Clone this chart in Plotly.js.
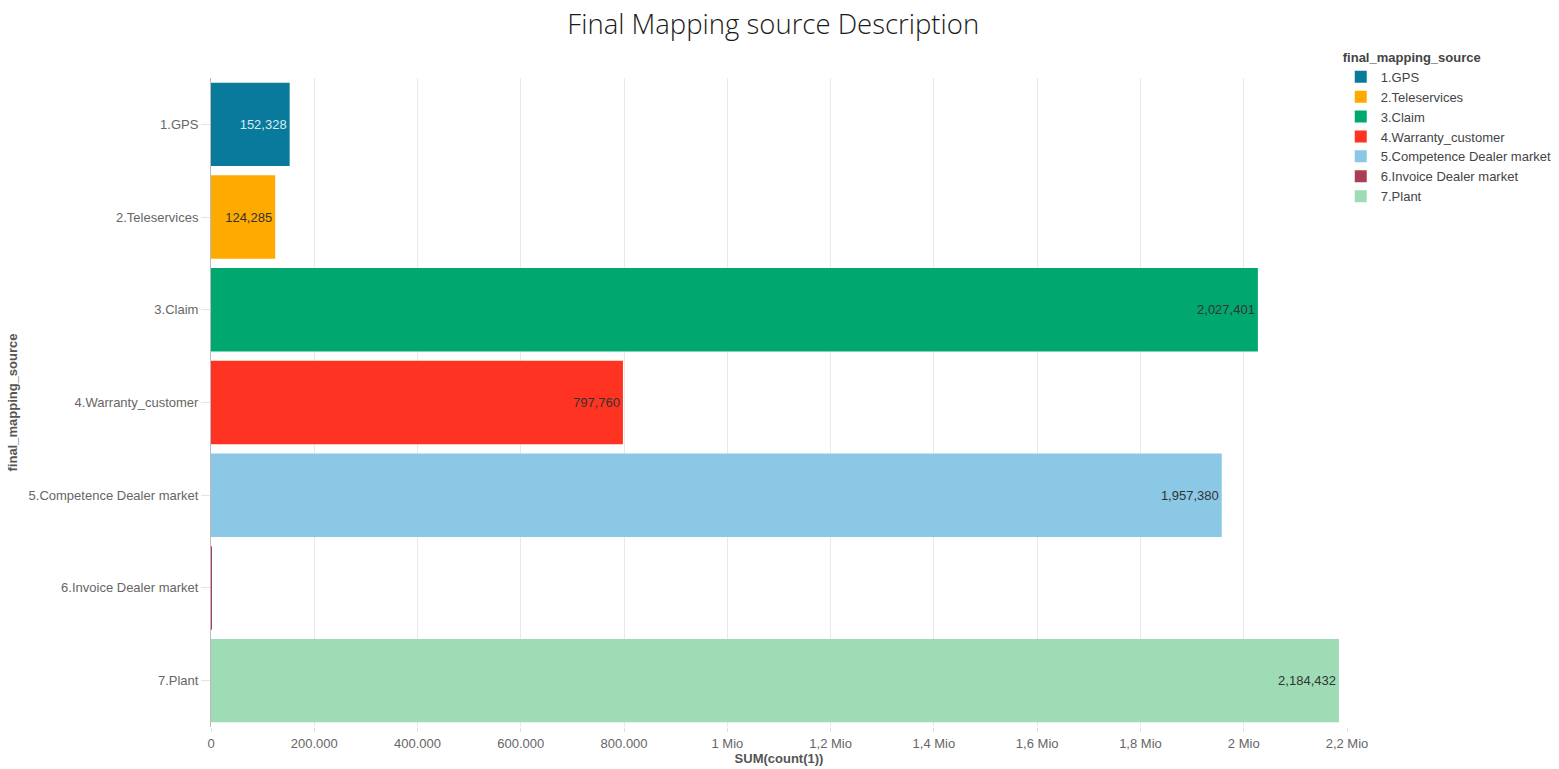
<!DOCTYPE html>
<html>
<head>
<meta charset="utf-8">
<script src="https://cdn.plot.ly/plotly-3.0.1.min.js"></script>
<style>html,body{margin:0;padding:0;background:#fff;}#chart{width:1559px;height:769px;}</style>
</head>
<body>
<div id="chart"></div>
<script>
const categories = ["1.GPS", "2.Teleservices", "3.Claim", "4.Warranty_customer", "5.Competence Dealer market", "6.Invoice Dealer market", "7.Plant"];
const values = [152328, 124285, 2027401, 797760, 1957380, 60, 2184432];
const colors = ["#0a7a9c", "#ffaa00", "#00a86f", "#ff3322", "#8ac8e6", "#a84055", "#9ddcb5"];
const labelColors = ["#d6ecf3", "#333333", "#333333", "#333333", "#333333", "#333333", "#333333"];
const tickVals = [0, 200000, 400000, 600000, 800000, 1000000, 1200000, 1400000, 1600000, 1800000, 2000000, 2200000];
const tickText = ["0", "200.000", "400.000", "600.000", "800.000", "1 Mio", "1,2 Mio", "1,4 Mio", "1,6 Mio", "1,8 Mio", "2 Mio", "2,2 Mio"];

const fmt = v => v.toLocaleString('en-US');

const traces = categories.map((c, i) => ({
  type: 'bar',
  orientation: 'h',
  name: c,
  y: [c],
  x: [values[i]],
  width: 0.9,
  marker: {color: colors[i], line: {width: 0}},
  text: [fmt(values[i])],
  textposition: values[i] > 10000 ? 'inside' : 'none',
  insidetextanchor: 'end',
  textfont: {family: 'Liberation Sans, Arial, sans-serif', size: 13, color: labelColors[i]},
  hoverinfo: 'x+y'
}));

const layout = {
  width: 1559, height: 769,
  paper_bgcolor: '#fff', plot_bgcolor: '#fff',
  margin: {l: 211, r: 212, t: 78, b: 42, autoexpand: false},
  barmode: 'overlay',
  title: {text: 'Final Mapping source Description', x: 0.496, xanchor: 'center', y: 0.968, yanchor: 'middle',
          font: {family: 'Open Sans, sans-serif', size: 27.5, color: '#1a1a1a', weight: 300}},
  font: {family: 'Liberation Sans, Arial, sans-serif', size: 13, color: '#666'},
  xaxis: {
    range: [0, 2200000], tickvals: tickVals, ticktext: tickText,
    showgrid: true, gridcolor: '#e9e9e9', gridwidth: 1, zeroline: false,
    ticks: 'outside', ticklen: 4, tickcolor: '#e0e0e0',
    tickfont: {size: 13, color: '#666'},
    title: {text: 'SUM(count(1))', standoff: 0, font: {size: 13, color: '#555', weight: 'bold'}}
  },
  yaxis: {
    type: 'category', categoryorder: 'array', categoryarray: categories, autorange: 'reversed',
    showline: true, linecolor: '#bbbbbb', linewidth: 1, showgrid: false,
    ticks: 'outside', ticklen: 9, tickcolor: '#e4e4e4',
    tickfont: {size: 13, color: '#666'},
    title: {text: 'final_mapping_source', standoff: 8, font: {size: 13, color: '#555', weight: 'bold'}}
  },
  legend: {
    x: 0.9945, xanchor: 'left', y: 1.051, yanchor: 'top',
    title: {text: 'final_mapping_source', font: {size: 13, color: '#444', weight: 'bold'}},
    font: {size: 13, color: '#444'}, tracegroupgap: 0, itemwidth: 30,
    traceorder: 'normal', bgcolor: 'rgba(0,0,0,0)'
  },
  showlegend: true
};

Plotly.newPlot('chart', traces, layout, {displayModeBar: false, responsive: false});
</script>
</body>
</html>
